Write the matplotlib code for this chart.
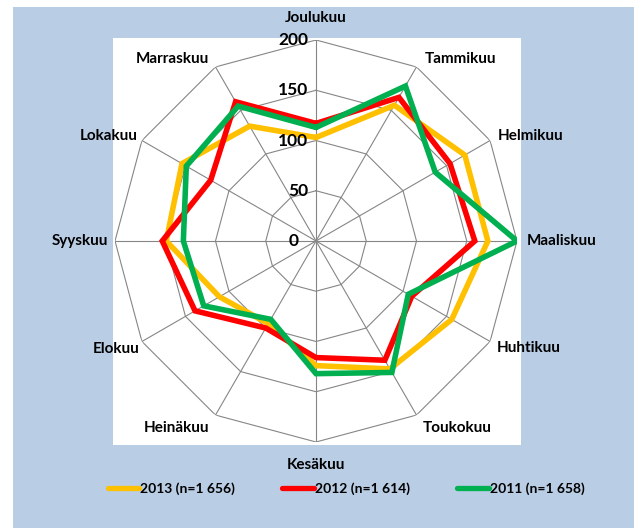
import numpy as np
import matplotlib
matplotlib.use("Agg")
import matplotlib.pyplot as plt
from matplotlib.patches import Rectangle

# months, clockwise from the top
months = ["Joulukuu", "Tammikuu", "Helmikuu", "Maaliskuu", "Huhtikuu", "Toukokuu",
          "Kesäkuu", "Heinäkuu", "Elokuu", "Syyskuu", "Lokakuu", "Marraskuu"]

v2013 = [103, 156, 171, 171, 156, 147, 124, 95, 111, 149, 154, 132]
v2012 = [117, 165, 154, 158, 110, 137, 116, 100, 139, 153, 121, 160]
v2011 = [113, 178, 137, 200, 106, 151, 132, 90, 129, 132, 149, 155]

series_labels = ["2013 (n=1 656)", "2012 (n=1 614)", "2011 (n=1 658)"]
series_colors = ["#FFC000", "#FF0000", "#00B050"]

rings = [50, 100, 150, 200]
ring_labels = ["0", "50", "100", "150", "200"]

plt.rcParams['font.family'] = ['Lato', 'DejaVu Sans']

W, H = 634, 528
fig = plt.figure(figsize=(W / 100, H / 100), dpi=100)
fig.patch.set_facecolor("white")

# blue outer box and white plot area
fig.patches.append(Rectangle((13 / W, 0), 1 - 13 / W, (H - 7) / H, transform=fig.transFigure,
                             facecolor="#B9CDE5", edgecolor="none", zorder=-2))
fig.patches.append(Rectangle((113 / W, (H - 445) / H), (521 - 113) / W, (445 - 38) / H,
                             transform=fig.transFigure, facecolor="white", edgecolor="none", zorder=-1))

cx, cy, R = 316, 241, 201
ax = fig.add_axes([(cx - R) / W, (H - cy - R) / H, 2 * R / W, 2 * R / H], projection="polar")
ax.set_theta_zero_location("N")
ax.set_theta_direction(-1)
ax.set_ylim(0, 200)
ax.set_xticks([])
ax.set_yticks([])
ax.spines["polar"].set_visible(False)
ax.patch.set_alpha(0)

n = len(months)
theta = np.arange(n) * 2 * np.pi / n
theta_c = np.append(theta, theta[0])

grid_kw = dict(color="#868686", lw=0.8, zorder=1)
for r in rings:
    ax.plot(theta_c, [r] * (n + 1), **grid_kw)
for t in theta:
    ax.plot([t, t], [0, 200], **grid_kw)

handles = []
for vals, lab, col in zip([v2013, v2012, v2011], series_labels, series_colors):
    h, = ax.plot(theta_c, vals + [vals[0]], color=col, lw=4, label=lab,
                 solid_joinstyle="miter", solid_capstyle="round", zorder=3)
    handles.append(h)

# radial value labels
for i, lab in enumerate(ring_labels):
    dx = -17 if i == 0 else -8
    ax.annotate(lab, xy=(0, i * 50), xytext=(dx, 0), textcoords="offset pixels",
                ha="right", va="center", fontsize=12.5, fontweight="bold", zorder=4)

# month labels
offsets = [(0, 22), (8, 8), (8, 4), (10, 0), (7, -7), (6, -13),
           (0, -23), (-6, -13), (-2, -7), (-7, 0), (-4, 4), (-6, 8)]
for t, m, (dx, dy) in zip(theta, months, offsets):
    s = np.sin(t)
    ha = "center" if abs(s) < 0.1 else ("left" if s > 0 else "right")
    ax.annotate(m, xy=(t, 200), xytext=(dx, dy), textcoords="offset pixels",
                ha=ha, va="center", fontsize=11, fontweight="bold", annotation_clip=False)

leg = fig.legend(handles=handles, labels=series_labels, loc="center", ncol=3,
                 bbox_to_anchor=(346 / W, 1 - 489 / H), frameon=False,
                 prop=dict(weight="bold", size=10), handlelength=2.3,
                 handletextpad=0.05, columnspacing=3.4)
for lh in leg.get_lines():
    lh.set_linewidth(3.8)

fig.savefig("out.png", dpi=100)
